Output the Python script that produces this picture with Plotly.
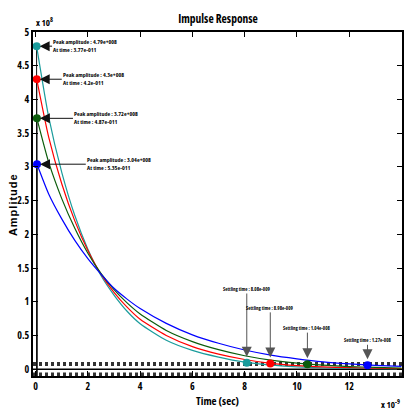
import plotly.graph_objects as go

# time axis in units of 1e-9 s, amplitude in units of 1e8
t_vals = [0.5, 1, 1.5, 2, 2.5, 3, 3.5, 4, 5, 6, 7, 8, 9, 10, 11, 12, 13, 14]

peak_t = [0.0377, 0.042, 0.0487, 0.0535]
peak_amp = [4.79, 4.30, 3.72, 3.04]
peak_t_txt = ["3.77e-011", "4.2e-011", "4.87e-011", "5.35e-011"]
peak_amp_txt = ["4.79e+008", "4.3e+008", "3.72e+008", "3.04e+008"]

cyan_y = [3.74, 2.92, 2.28, 1.78, 1.39, 1.10, 0.86, 0.675, 0.43, 0.28, 0.18, 0.105, 0.06, 0.036, 0.022, 0.014, 0.009, 0.006]
red_y = [3.44, 2.75, 2.20, 1.76, 1.41, 1.14, 0.92, 0.74, 0.50, 0.335, 0.225, 0.145, 0.088, 0.055, 0.035, 0.023, 0.015, 0.01]
green_y = [3.07, 2.53, 2.09, 1.72, 1.42, 1.18, 0.985, 0.82, 0.575, 0.41, 0.29, 0.20, 0.135, 0.09, 0.06, 0.04, 0.027, 0.018]
blue_y = [2.60, 2.23, 1.91, 1.64, 1.41, 1.20, 1.04, 0.90, 0.68, 0.51, 0.385, 0.285, 0.21, 0.155, 0.11, 0.08, 0.058, 0.042]

settle_t = [8.08, 8.98, 10.4, 12.7]
settle_amp = [0.096, 0.086, 0.074, 0.061]
settle_txt = ["8.08e-009", "8.98e-009", "1.04e-008", "1.27e-008"]

colors = ["#1a9c9c", "#ff0000", "#0b5c0b", "#0000ff"]
series = [cyan_y, red_y, green_y, blue_y]

FONT = "Open Sans"
X0, X1 = -0.1, 14.02
Y0, Y1 = -0.1, 5.0


def cond(s):
    return f"<span style='font-stretch:condensed'>{s}</span>"


fig = go.Figure()

# settling bands (+/- 2% of peak) and zero line
for pa in peak_amp:
    for s in (1, -1):
        fig.add_trace(go.Scatter(x=[X0, X1], y=[s * 0.02 * pa] * 2, mode="lines",
                                 line=dict(color="#333333", width=1.5, dash="dot"),
                                 hoverinfo="skip", showlegend=False))
fig.add_trace(go.Scatter(x=[X0, X1], y=[0, 0], mode="lines",
                         line=dict(color="black", width=1.5), hoverinfo="skip", showlegend=False))

# peak-time vertical guide lines
for pt, pa in zip(peak_t, peak_amp):
    fig.add_trace(go.Scatter(x=[pt, pt], y=[Y0, pa], mode="lines",
                             line=dict(color="#111111", width=1),
                             hoverinfo="skip", showlegend=False))

for ys, c, pt, pa in zip(series, colors, peak_t, peak_amp):
    fig.add_trace(go.Scatter(x=[pt] + t_vals, y=[pa] + ys, mode="lines",
                             line=dict(color=c, width=1.2, shape="spline", smoothing=0.6),
                             showlegend=False))

# markers
for c, pt, pa, st, sa in zip(colors, peak_t, peak_amp, settle_t, settle_amp):
    fig.add_trace(go.Scatter(x=[pt, st], y=[pa, sa], mode="markers",
                             marker=dict(color=c, size=8), showlegend=False))

ann = []

# peak annotations (text at arrow tail, arrow points to the peak marker)
peak_tail = [0.63, 1.0, 1.43, 1.92]
for pt, pa, tx, at, aa in zip(peak_t, peak_amp, peak_tail, peak_t_txt, peak_amp_txt):
    txt = cond("Peak amplitude : " + aa) + "<br>" + cond("At time : " + at)
    ann.append(dict(x=pt, y=pa, xref="x", yref="y", ax=tx, ay=pa, axref="x", ayref="y",
                    text=txt, align="left", xanchor="left", yanchor="middle", borderpad=0,
                    showarrow=True, arrowhead=2, arrowsize=2, arrowwidth=1,
                    arrowcolor="#111111", standoff=3,
                    font=dict(family=FONT, size=6, color="black", weight="bold")))

# settling annotations
settle_text_y = [1.19, 0.91, 0.61, 0.43]
for st, sa, tty, txt in zip(settle_t, settle_amp, settle_text_y, settle_txt):
    ann.append(dict(x=st, y=sa, xref="x", yref="y", ax=st, ay=tty, axref="x", ayref="y",
                    text=cond("Settling time : " + txt), xanchor="center", yanchor="middle",
                    showarrow=True, arrowhead=2, arrowsize=2, arrowwidth=1,
                    arrowcolor="#555555", standoff=6,
                    font=dict(family=FONT, size=5, color="black", weight="bold")))

W, H = 405, 410
L, R, T, B = 33, 1, 32, 34
pw, ph = W - L - R, H - T - B


def px(x):
    return (x - L) / pw


def py(y):
    return (H - B - y) / ph


ann.append(dict(x=px(13), y=py(205), xref="paper", yref="paper",
                text="<span style='letter-spacing:1px'>Amplitude</span>",
                textangle=-90, xanchor="center", yanchor="middle", showarrow=False,
                font=dict(family="Liberation Sans", size=11, color="black", weight="bold")))
ann.append(dict(x=px(34), y=py(22), xref="paper", yref="paper", text=cond("x 10<sup>8</sup>"),
                xanchor="left", yanchor="middle", showarrow=False,
                font=dict(family=FONT, size=9, color="black", weight="bold")))
ann.append(dict(x=px(404), y=py(404), xref="paper", yref="paper", text=cond("x 10<sup>-9</sup>"),
                xanchor="right", yanchor="middle", showarrow=False,
                font=dict(family=FONT, size=9, color="black", weight="bold")))

xt = [0, 2, 4, 6, 8, 10, 12, 14]
xt_lbl = ["0", "2", "4", "6", "8", "10", "12", "14"]
yt = [0, 0.5, 1, 1.5, 2, 2.5, 3, 3.5, 4, 4.5, 5]
yt_lbl = ["0", "0.5", "1", "1.5", "2", "2.5", "3", "3.5", "4", "4.5", "5"]

tickfont = dict(family=FONT, size=10, color="black", weight="bold")
fig.update_layout(
    width=W, height=H, margin=dict(l=L, r=R, t=T, b=B),
    paper_bgcolor="white", plot_bgcolor="white", annotations=ann,
    title=dict(text=cond("Impulse Response"), x=218 / W, xanchor="center",
               y=1 - 19 / H, yanchor="middle",
               font=dict(family=FONT, size=11.5, color="black", weight="bold")),
    xaxis=dict(range=[X0, X1], tickvals=xt, ticktext=[cond(s) for s in xt_lbl],
               ticks="inside", ticklen=5, tickcolor="black", showline=True, linecolor="black",
               linewidth=1.5, mirror="allticks", showgrid=False, zeroline=False, tickfont=tickfont,
               title=dict(text=cond("Time (sec)"), standoff=6,
                          font=dict(family=FONT, size=11, color="black", weight="bold"))),
    yaxis=dict(range=[Y0, Y1], tickvals=yt, ticktext=[cond(s) for s in yt_lbl],
               ticks="inside", ticklen=5, tickcolor="black", showline=True, linecolor="black",
               linewidth=1.5, mirror="allticks", showgrid=False, zeroline=False, tickfont=tickfont),
)

fig.write_html("out.html", config={"displayModeBar": False},
               post_script="document.body.style.margin='0';")
